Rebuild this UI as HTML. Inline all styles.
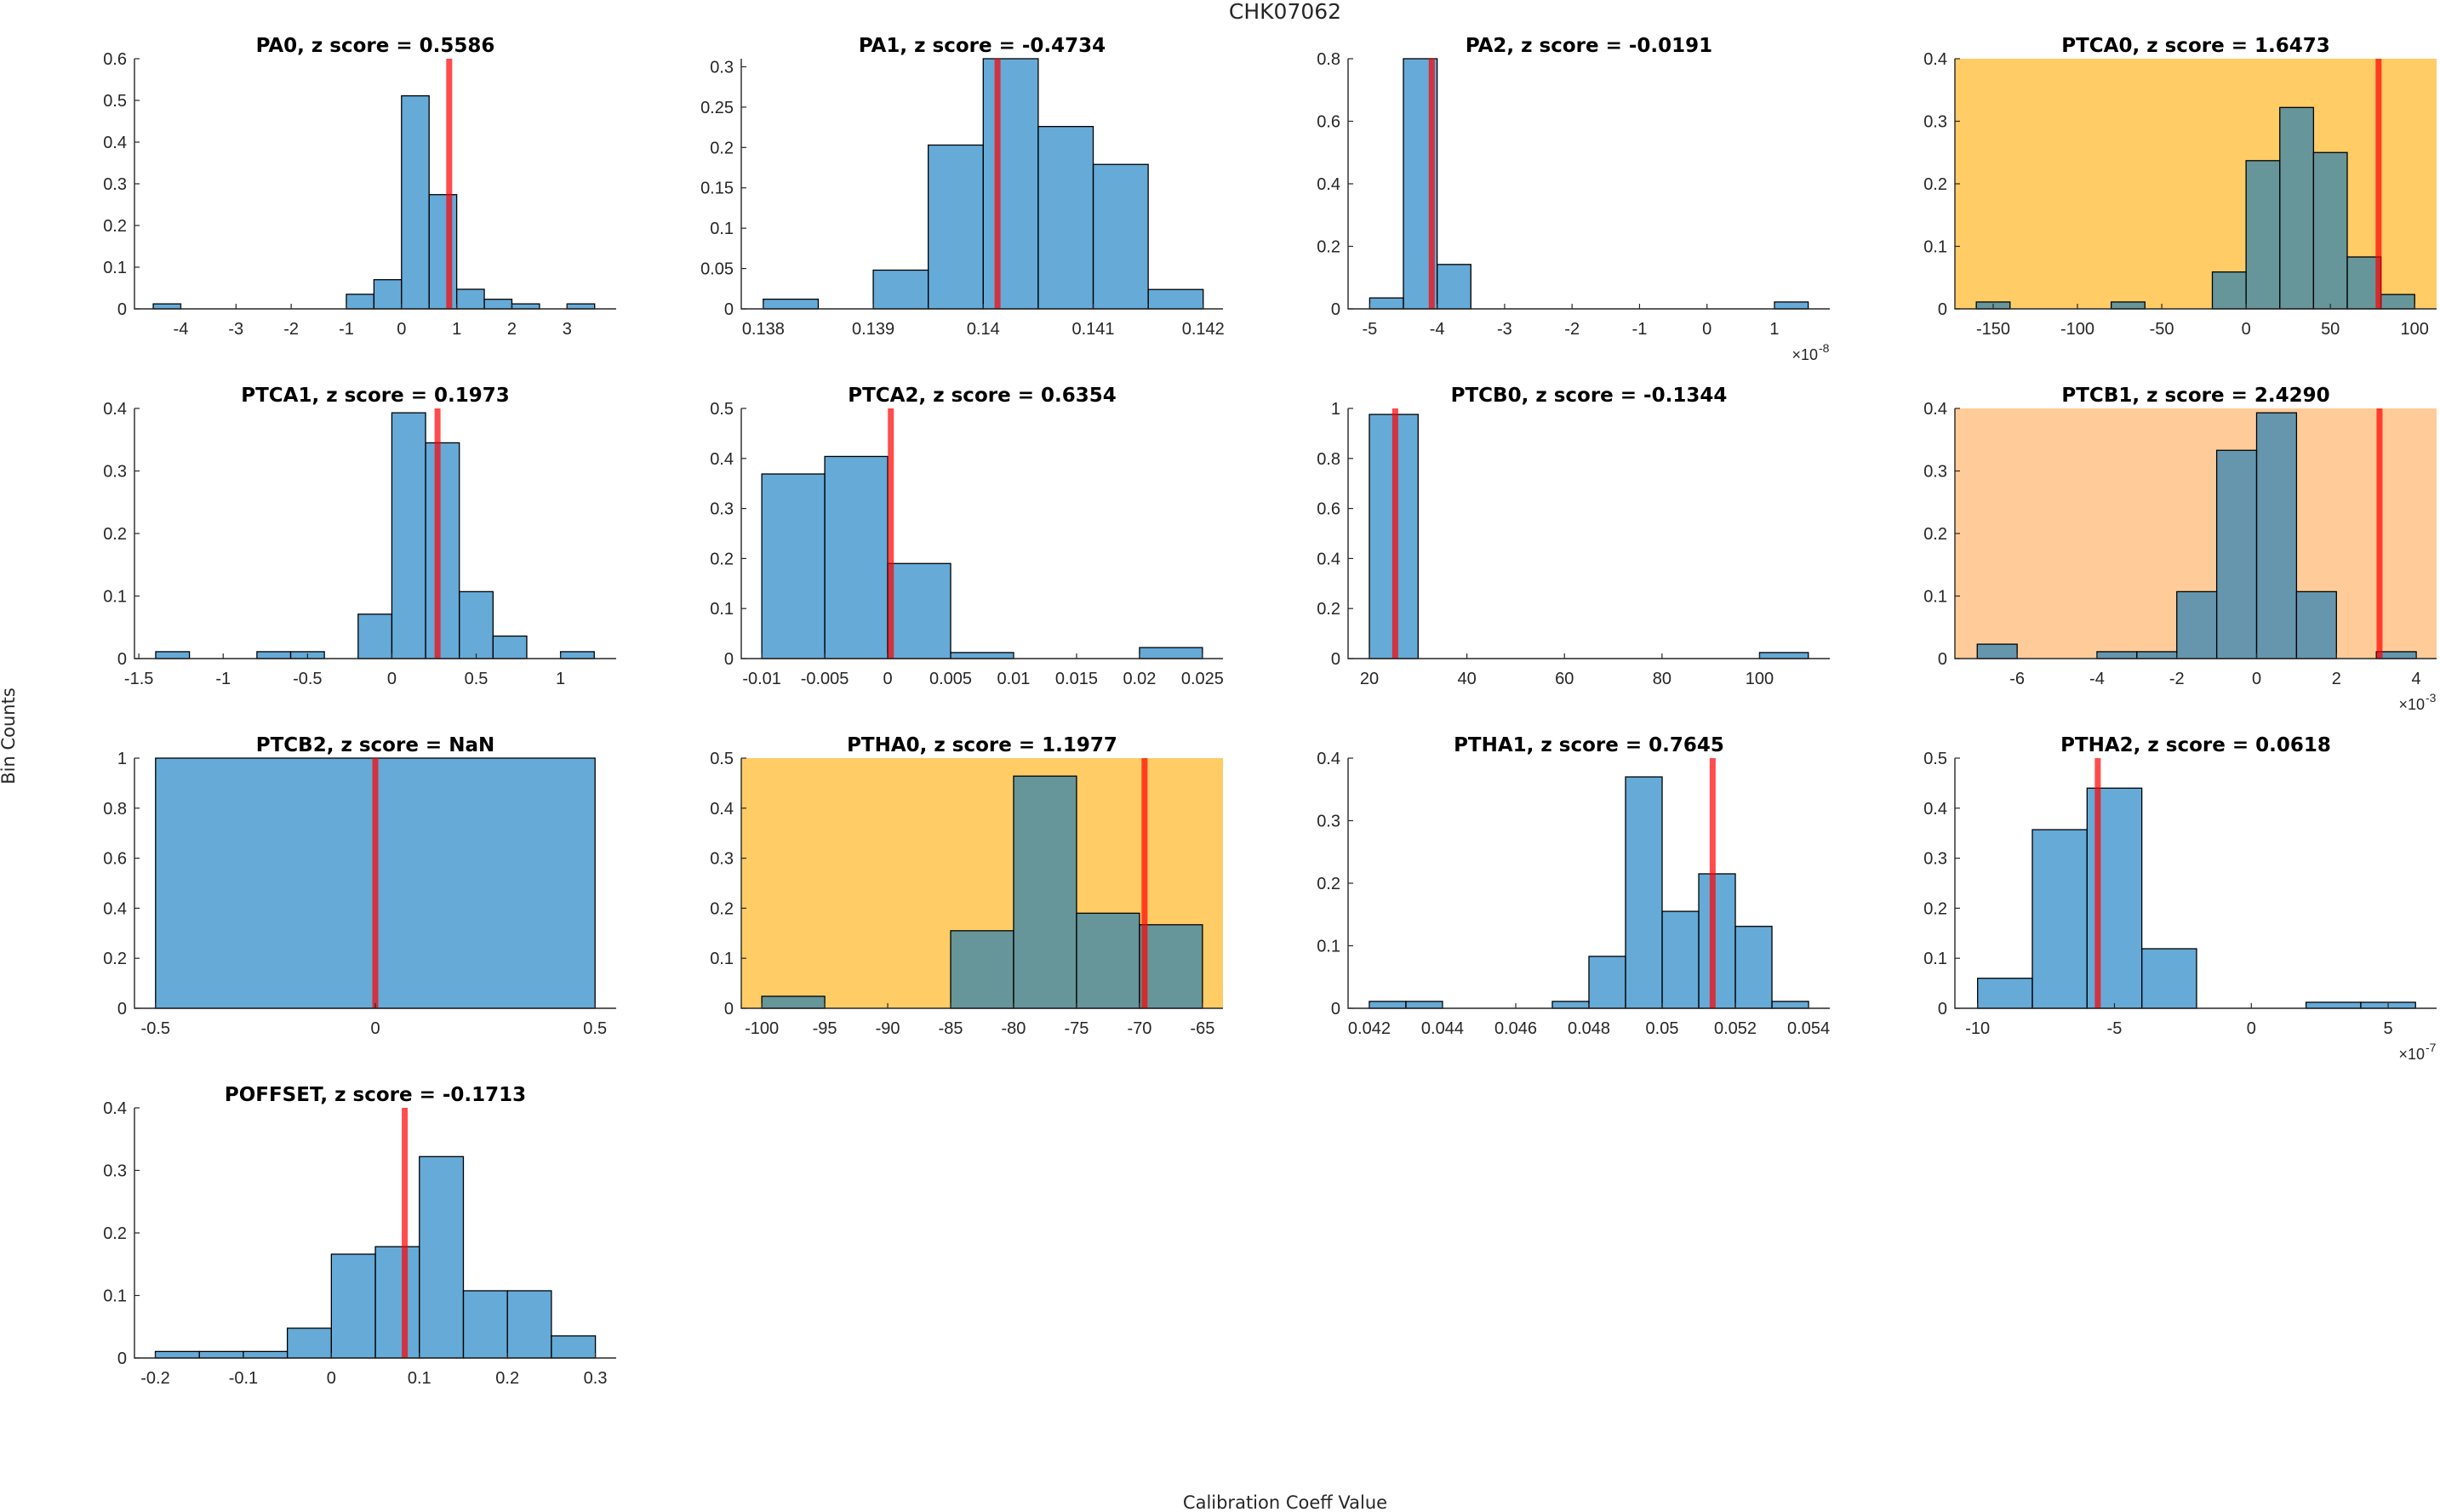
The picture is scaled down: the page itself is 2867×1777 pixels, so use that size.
<!DOCTYPE html>
<html><head><meta charset="utf-8"><title>CHK07062</title>
<style>
html,body{margin:0;padding:0;background:#fff;}
svg{display:block;font-family:"Liberation Sans",sans-serif;}
</style></head>
<body>
<svg id="fig" width="2867" height="1777" viewBox="0 0 2867 1777" xmlns="http://www.w3.org/2000/svg">
<rect x="0" y="0" width="2867" height="1777" fill="#fff"/>
<text x="1510" y="22" font-size="25" font-family="DejaVu Sans, sans-serif" text-anchor="middle" fill="#262626">CHK07062</text>
<text x="1510" y="1773" font-size="21" font-family="DejaVu Sans, sans-serif" text-anchor="middle" fill="#262626">Calibration Coeff Value</text>
<text x="0" y="0" font-size="21" font-family="DejaVu Sans, sans-serif" text-anchor="middle" fill="#262626" transform="translate(17,865) rotate(-90)">Bin Counts</text>
</svg>
<script>
// ---- data (bin left edges, bin width, normalized counts, reference value) ----
const titles = ["PA0, z score = 0.5586","PA1, z score = -0.4734","PA2, z score = -0.0191","PTCA0, z score = 1.6473","PTCA1, z score = 0.1973","PTCA2, z score = 0.6354","PTCB0, z score = -0.1344","PTCB1, z score = 2.4290","PTCB2, z score = NaN","PTHA0, z score = 1.1977","PTHA1, z score = 0.7645","PTHA2, z score = 0.0618","POFFSET, z score = -0.1713"];
const pa0Edges = [-4.5,-4,-3.5,-3,-2.5,-2,-1.5,-1,-0.5,0,0.5,1,1.5,2,2.5,3];
const pa0Counts = [0.012,0,0,0,0,0,0,0.035,0.070,0.511,0.274,0.047,0.023,0.012,0,0.012];
const pa1Edges = [0.138,0.1385,0.139,0.1395,0.14,0.1405,0.141,0.1415];
const pa1Counts = [0.012,0,0.048,0.203,0.31,0.226,0.179,0.024];
const pa2Edges = [-5,-4.5,-4,-3.5,-3,-2.5,-2,-1.5,-1,-0.5,0,0.5,1];
const pa2Counts = [0.035,0.8,0.142,0,0,0,0,0,0,0,0,0,0.022];
const ptca0Edges = [-160,-140,-120,-100,-80,-60,-40,-20,0,20,40,60,80];
const ptca0Counts = [0.011,0,0,0,0.011,0,0,0.059,0.237,0.322,0.25,0.083,0.023];
const ptca1Edges = [-1.4,-1.2,-1.0,-0.8,-0.6,-0.4,-0.2,0,0.2,0.4,0.6,0.8,1.0];
const ptca1Counts = [0.011,0,0,0.011,0.011,0,0.071,0.393,0.345,0.107,0.036,0,0.011];
const ptca2Edges = [-0.01,-0.005,0,0.005,0.01,0.015,0.02];
const ptca2Counts = [0.369,0.404,0.19,0.012,0,0,0.022];
const ptcb0Edges = [20,30,40,50,60,70,80,90,100];
const ptcb0Counts = [0.976,0,0,0,0,0,0,0,0.024];
const ptcb1Edges = [-7,-6,-5,-4,-3,-2,-1,0,1,2,3];
const ptcb1Counts = [0.023,0,0,0.011,0.011,0.107,0.333,0.393,0.107,0,0.011];
const ptcb2Edges = [-0.5];
const ptcb2Counts = [1];
const ptha0Edges = [-100,-95,-90,-85,-80,-75,-70];
const ptha0Counts = [0.024,0,0,0.155,0.464,0.19,0.167];
const ptha1Edges = [0.042,0.043,0.044,0.045,0.046,0.047,0.048,0.049,0.05,0.051,0.052,0.053];
const ptha1Counts = [0.011,0.011,0,0,0,0.011,0.083,0.37,0.155,0.215,0.131,0.011];
const ptha2Edges = [-10,-8,-6,-4,-2,0,2,4];
const ptha2Counts = [0.06,0.357,0.44,0.119,0,0,0.012,0.012];
const poffsetEdges = [-0.2,-0.15,-0.1,-0.05,0,0.05,0.1,0.15,0.2,0.25];
const poffsetCounts = [0.0104,0.0104,0.0104,0.0476,0.166,0.178,0.322,0.1075,0.1075,0.0354];
const binWidths = [0.5,0.0005,0.5,20,0.2,0.005,10,1,1,5,0.001,2,0.05];
const refValues = [0.864,0.14013,-4.08,78.6,0.271,0.00025,25.3,3.08,0,-69.6,0.05138,-5.61,0.0834];
const xTickLabels = [
 ["-4","-3","-2","-1","0","1","2","3"],
 ["0.138","0.139","0.14","0.141","0.142"],
 ["-5","-4","-3","-2","-1","0","1"],
 ["-150","-100","-50","0","50","100"],
 ["-1.5","-1","-0.5","0","0.5","1"],
 ["-0.01","-0.005","0","0.005","0.01","0.015","0.02","0.025"],
 ["20","40","60","80","100"],
 ["-6","-4","-2","0","2","4"],
 ["-0.5","0","0.5"],
 ["-100","-95","-90","-85","-80","-75","-70","-65"],
 ["0.042","0.044","0.046","0.048","0.05","0.052","0.054"],
 ["-10","-5","0","5"],
 ["-0.2","-0.1","0","0.1","0.2","0.3"]
];
const yTickLabels = [
 ["0","0.1","0.2","0.3","0.4","0.5","0.6"],
 ["0","0.05","0.1","0.15","0.2","0.25","0.3"],
 ["0","0.2","0.4","0.6","0.8"],
 ["0","0.1","0.2","0.3","0.4"],
 ["0","0.1","0.2","0.3","0.4"],
 ["0","0.1","0.2","0.3","0.4","0.5"],
 ["0","0.2","0.4","0.6","0.8","1"],
 ["0","0.1","0.2","0.3","0.4"],
 ["0","0.2","0.4","0.6","0.8","1"],
 ["0","0.1","0.2","0.3","0.4","0.5"],
 ["0","0.1","0.2","0.3","0.4"],
 ["0","0.1","0.2","0.3","0.4","0.5"],
 ["0","0.1","0.2","0.3","0.4"]
];
const xLimits = [[-4.84,3.89],[0.13780,0.14218],[-5.32,1.82],[-172.7,113],[-1.526,1.33],[-0.01163,0.02663],[15.64,114.4],[-7.56,4.51],[-0.548,0.548],[-101.63,-63.37],[0.04142,0.05458],[-10.83,6.77],[-0.2237,0.3236]];
const yMax = [0.6,0.31,0.8,0.4,0.4,0.5,1,0.4,1,0.5,0.4,0.5,0.4];
const multipliers = ["","","-8","","","","","-3","","","","-7",""];
const bgColors = ["","","","#ffcc66","","","","#ffcc99","","#ffcc66","","",""];
const allEdges = [pa0Edges,pa1Edges,pa2Edges,ptca0Edges,ptca1Edges,ptca2Edges,ptcb0Edges,ptcb1Edges,ptcb2Edges,ptha0Edges,ptha1Edges,ptha2Edges,poffsetEdges];
const allCounts = [pa0Counts,pa1Counts,pa2Counts,ptca0Counts,ptca1Counts,ptca2Counts,ptcb0Counts,ptcb1Counts,ptcb2Counts,ptha0Counts,ptha1Counts,ptha2Counts,poffsetCounts];

const NS = "http://www.w3.org/2000/svg";
const svg = document.getElementById("fig");
function mk(tag, attrs, parent){
  const e = document.createElementNS(NS, tag);
  for (const k in attrs) e.setAttribute(k, attrs[k]);
  (parent || svg).appendChild(e);
  return e;
}
const W = 566, H = 294;
for (let p = 0; p < titles.length; p++) {
  const col = p % 4, row = Math.floor(p / 4);
  const L = 158 + col * 713, T = 69 + row * 411;
  const xl = xLimits[p], ym = yMax[p];
  const sx = v => L + (v - xl[0]) / (xl[1] - xl[0]) * W;
  const sy = v => T + H - v / ym * H;
  const g = mk("g", {});
  
  
  if (bgColors[p]) {
    const bg = mk("rect", {x: L, y: T, width: W, height: H, fill: bgColors[p]}, g);
    
    
  }
  const edges = allEdges[p], counts = allCounts[p], bw = binWidths[p];
  for (let i = 0; i < edges.length; i++) {
    const x0 = sx(edges[i]), x1 = sx(edges[i] + bw);
    const y0 = sy(counts[i]);
    const r = mk("rect", {x: x0, y: y0, width: x1 - x0, height: T + H - y0,
      fill: "rgb(0,114,189)", "fill-opacity": 0.6, stroke: "#000", "stroke-width": 1.3}, g);
    
    
  }
  const rx = sx(refValues[p]);
  const rl = mk("rect", {x: rx - 3.5, y: T, width: 7, height: H, fill: "rgb(255,0,0)", "fill-opacity": 0.7}, g);
  
  
  const ax = mk("path", {d: `M${L},${T}V${T+H}H${L+W}`, stroke: "#262626", "stroke-width": 1.4, fill: "none"}, g);
  
  
  const yl = yTickLabels[p];
  for (let i = 0; i < yl.length; i++) {
    const v = parseFloat(yl[i]), y = sy(v);
    mk("line", {x1: L, x2: L + 6, y1: y, y2: y, stroke: "#262626", "stroke-width": 1.2}, g);
    const t = mk("text", {x: L - 9, y: y + 7, "font-size": 20, "text-anchor": "end", fill: "#262626"}, g);
    t.textContent = yl[i];
    
    
  }
  const xt = xTickLabels[p];
  for (let i = 0; i < xt.length; i++) {
    const v = parseFloat(xt[i]), x = sx(v);
    mk("line", {x1: x, x2: x, y1: T + H, y2: T + H - 6, stroke: "#262626", "stroke-width": 1.2}, g);
    const t = mk("text", {x: x, y: T + H + 30, "font-size": 20, "text-anchor": "middle", fill: "#262626"}, g);
    t.textContent = xt[i];
    
    
  }
  if (multipliers[p]) {
    const m = mk("text", {x: L + W - 14, y: T + H + 60, "font-size": 18, "text-anchor": "end", fill: "#262626"}, g);
    m.textContent = "×10";
    
    
    const s = mk("text", {x: L + W - 13, y: T + H + 51, "font-size": 14, "text-anchor": "start", fill: "#262626"}, g);
    s.textContent = multipliers[p];
    
    
  }
  const tt = mk("text", {x: L + W / 2, y: T - 8, "font-size": 23, "font-family": "DejaVu Sans, sans-serif", "font-weight": "bold", "text-anchor": "middle", fill: "#000"}, g);
  tt.textContent = titles[p];
  
  
}
</script>
</body></html>
